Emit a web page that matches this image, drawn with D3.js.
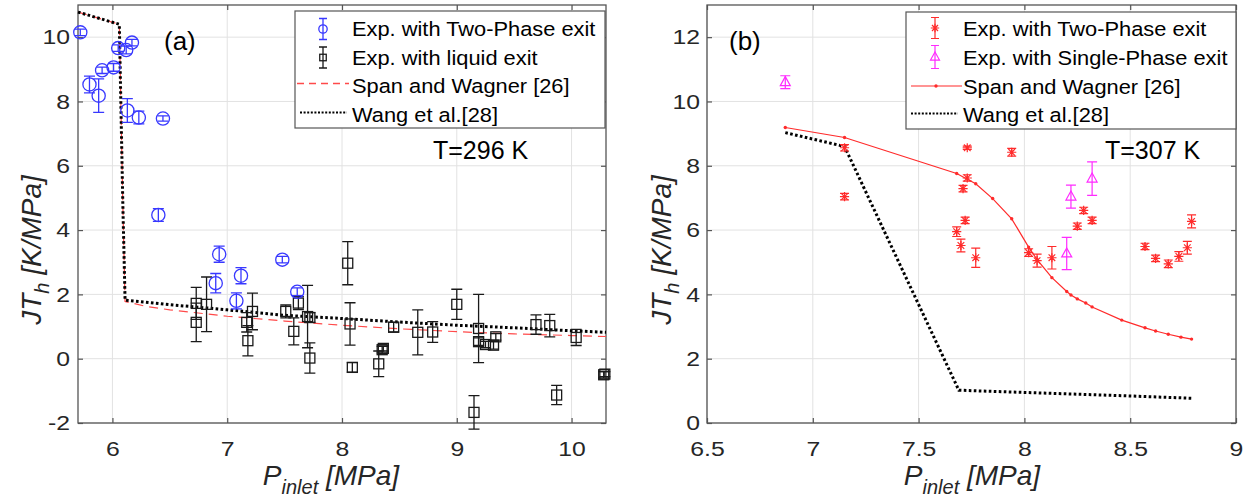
<!DOCTYPE html>
<html>
<head>
<meta charset="utf-8">
<script src="https://cdn.jsdelivr.net/npm/d3@7"></script>
<style>
  body { margin: 0; background: #fff; }
  svg { display: block; }
  text { font-family: "Liberation Sans", Arial, Helvetica, sans-serif; }
</style>
</head>
<body>
<svg id="chart" width="1249" height="501"></svg>
<script>
// ---------- Data: [P_inlet (MPa), JT_h (K/MPa), error (K/MPa)] ----------

// (a) T = 296 K
const twoPhaseA = [
  [5.72, 10.15, 0.10], [5.80, 8.53, 0.26], [5.88, 8.18, 0.52], [5.91, 8.97, 0.10],
  [6.01, 9.06, 0.12], [6.05, 9.66, 0.10], [6.12, 9.60, 0.12], [6.17, 9.83, 0.10],
  [6.13, 7.72, 0.37], [6.23, 7.50, 0.20], [6.44, 7.47, 0.08], [6.40, 4.47, 0.20],
  [6.93, 3.25, 0.25], [6.90, 2.35, 0.30], [7.12, 2.58, 0.25], [7.08, 1.80, 0.25],
  [7.48, 3.08, 0.10], [7.61, 2.08, 0.12]
];
const liquidA = [
  [6.73, 1.72, 0.50], [6.73, 1.13, 0.60], [6.82, 1.69, 0.85], [7.17, 1.13, 0.30],
  [7.18, 0.56, 0.47], [7.22, 1.47, 0.57], [7.51, 1.47, 0.20], [7.58, 0.85, 0.42],
  [7.62, 1.73, 0.20], [7.70, 1.31, 0.97], [7.72, 1.28, 0.15], [7.72, 0.02, 0.47],
  [8.05, 2.97, 0.67], [8.07, 1.08, 0.66], [8.09, -0.27, 0.15], [8.32, -0.16, 0.40],
  [8.35, 0.28, 0.10], [8.36, 0.32, 0.08], [8.45, 0.98, 0.15], [8.66, 0.82, 0.70],
  [8.79, 0.83, 0.32], [9.00, 1.69, 0.47], [9.15, -1.67, 0.52], [9.19, 0.94, 1.06],
  [9.19, 0.53, 0.12], [9.25, 0.44, 0.10], [9.32, 0.42, 0.12], [9.34, 0.68, 0.10],
  [9.69, 1.06, 0.30], [9.81, 1.03, 0.35], [9.87, -1.13, 0.30], [10.04, 0.66, 0.25],
  [10.28, -0.50, 0.10], [10.29, -0.48, 0.08]
];
const spanWagnerA = [
  [5.70, 10.78], [6.06, 10.40], [6.09, 4.90], [6.11, 1.78], [6.30, 1.62], [6.50, 1.52],
  [7.00, 1.32], [7.50, 1.17], [8.00, 1.04], [8.50, 0.93], [9.00, 0.84], [9.50, 0.77],
  [10.00, 0.72], [10.30, 0.69]
];
const wangA = [
  [5.70, 10.78], [6.06, 10.40], [6.09, 4.90], [6.11, 1.82], [6.50, 1.68], [7.00, 1.52],
  [7.50, 1.35], [8.00, 1.25], [8.50, 1.14], [9.00, 1.04], [9.50, 0.96], [10.00, 0.87],
  [10.30, 0.82]
];

// (b) T = 307 K
const twoPhaseB = [
  [7.15, 8.56, 0.10], [7.15, 7.04, 0.10], [7.73, 8.56, 0.05], [7.94, 8.42, 0.12],
  [7.73, 7.62, 0.10], [7.71, 7.29, 0.10], [7.72, 6.30, 0.10], [7.68, 5.95, 0.15],
  [7.70, 5.52, 0.20], [7.77, 5.14, 0.30], [8.02, 5.30, 0.12], [8.06, 5.05, 0.20],
  [8.13, 5.14, 0.35], [8.25, 6.12, 0.10], [8.28, 6.61, 0.10], [8.32, 6.30, 0.10],
  [8.57, 5.49, 0.10], [8.62, 5.12, 0.10], [8.68, 4.95, 0.12], [8.73, 5.18, 0.15],
  [8.77, 5.45, 0.20], [8.79, 6.27, 0.20]
];
const singlePhaseB = [
  [6.87, 10.60, 0.20], [8.20, 5.27, 0.50], [8.22, 7.04, 0.36], [8.32, 7.60, 0.52]
];
const spanWagnerB = [
  [6.87, 9.19], [7.15, 8.88], [7.68, 7.76], [7.77, 7.44], [7.85, 6.98], [7.94, 6.35],
  [8.02, 5.47], [8.06, 5.08], [8.13, 4.52], [8.20, 4.09], [8.22, 3.98], [8.25, 3.86],
  [8.29, 3.73], [8.32, 3.61], [8.46, 3.20], [8.57, 2.96], [8.62, 2.86], [8.68, 2.76],
  [8.74, 2.67], [8.79, 2.61]
];
const wangB = [
  [6.87, 9.03], [7.15, 8.60], [7.69, 1.02], [8.00, 0.95], [8.50, 0.84], [8.79, 0.77]
];

// Tick labels
const xTicksA = [6, 7, 8, 9, 10];
const yTicksA = [-2, 0, 2, 4, 6, 8, 10];
const xTicksB = [6.5, 7, 7.5, 8, 8.5, 9];
const yTicksB = [0, 2, 4, 6, 8, 10, 12];

// Legend texts
const legendA = ["Exp. with Two-Phase exit", "Exp. with liquid exit", "Span and Wagner [26]", "Wang et al.[28]"];
const legendB = ["Exp. with Two-Phase exit", "Exp. with Single-Phase exit", "Span and Wagner [26]", "Wang et al.[28]"];

// ---------- Styles ----------
const BLUE = "#3838ff", BLACK = "#1a1a1a", RED = "#ff2b2b", MAGENTA = "#ff2bff";
const DASH_RED = "#ff4a4a";
const AXIS = "#555555", GRID = "#e2e2e2", TXT = "#262626";
const TICK_SX = 1.18;   // horizontal stretch of tick label glyphs
const LEG_SX = 1.12;    // horizontal stretch of legend glyphs

const svg = d3.select("#chart");

// ---------- Marker helpers ----------
function errBar(g, x, y, yl, yh, half, color, w) {
  const p = d3.path();
  p.moveTo(x, yl); p.lineTo(x, yh);
  p.moveTo(x - half, yl); p.lineTo(x + half, yl);
  p.moveTo(x - half, yh); p.lineTo(x + half, yh);
  g.append("path").attr("d", p.toString()).attr("fill", "none")
    .attr("stroke", color).attr("stroke-width", w);
}
function circleMark(g, x, y, r, color) {
  g.append("circle").attr("cx", x).attr("cy", y).attr("r", r)
    .attr("fill", "none").attr("stroke", color).attr("stroke-width", 1.3);
}
function squareMark(g, x, y, s, color) {
  g.append("rect").attr("x", x - s / 2).attr("y", y - s / 2).attr("width", s).attr("height", s)
    .attr("fill", "none").attr("stroke", color).attr("stroke-width", 1.3);
}
function starMark(g, x, y, r, color) {
  const p = d3.path(), d = r * 0.72;
  p.moveTo(x - r, y); p.lineTo(x + r, y);
  p.moveTo(x, y - r); p.lineTo(x, y + r);
  p.moveTo(x - d, y - d); p.lineTo(x + d, y + d);
  p.moveTo(x - d, y + d); p.lineTo(x + d, y - d);
  g.append("path").attr("d", p.toString()).attr("fill", "none")
    .attr("stroke", color).attr("stroke-width", 1.2);
}
function triMark(g, x, y, s, color) {
  const h = s * 0.9;
  g.append("path").attr("d", `M${x},${y - h * 0.62}L${x + s / 2},${y + h * 0.38}L${x - s / 2},${y + h * 0.38}Z`)
    .attr("fill", "none").attr("stroke", color).attr("stroke-width", 1.2);
}

// Text placed at (x, y), optionally stretched horizontally
function label(g, x, y, str, size, opts = {}) {
  const sx = opts.sx || 1;
  return g.append("g").attr("transform", `translate(${x},${y}) scale(${sx},1)`)
    .append("text").attr("x", 0).attr("y", 0)
    .attr("font-size", size).attr("fill", opts.fill || "#000")
    .attr("text-anchor", opts.anchor || "start")
    .text(str);
}

// ---------- Panel ----------
function drawPanel(cfg) {
  const g = svg.append("g");
  const x = d3.scaleLinear().domain(cfg.xDomain).range([cfg.left, cfg.right]);
  const y = d3.scaleLinear().domain(cfg.yDomain).range([cfg.bottom, cfg.top]);
  const W = cfg.right - cfg.left, H = cfg.bottom - cfg.top;

  // grid
  const grid = g.append("g");
  grid.selectAll("line.gx").data(cfg.xTicks).join("line")
    .attr("x1", d => x(d)).attr("x2", d => x(d)).attr("y1", cfg.top).attr("y2", cfg.bottom)
    .attr("stroke", GRID).attr("stroke-width", 1);
  grid.selectAll("line.gy").data(cfg.yTicks).join("line")
    .attr("y1", d => y(d)).attr("y2", d => y(d)).attr("x1", cfg.left).attr("x2", cfg.right)
    .attr("stroke", GRID).attr("stroke-width", 1);

  // axes (inward ticks on all four sides)
  const fmt = d => String(d);
  const axB = g.append("g").attr("transform", `translate(0,${cfg.bottom})`)
    .call(d3.axisBottom(x).tickValues(cfg.xTicks).tickFormat(fmt).tickSize(-5).tickPadding(18));
  const axL = g.append("g").attr("transform", `translate(${cfg.left},0)`)
    .call(d3.axisLeft(y).tickValues(cfg.yTicks).tickFormat(fmt).tickSize(-5).tickPadding(cfg.yPad));
  const axT = g.append("g").attr("transform", `translate(0,${cfg.top})`)
    .call(d3.axisTop(x).tickValues(cfg.xTicks).tickFormat("").tickSize(-5));
  const axR = g.append("g").attr("transform", `translate(${cfg.right},0)`)
    .call(d3.axisRight(y).tickValues(cfg.yTicks).tickFormat("").tickSize(-5));
  [axB, axL, axT, axR].forEach(a => {
    a.select(".domain").remove();
    a.selectAll(".tick line").attr("stroke", AXIS).attr("stroke-width", 1.2);
    a.selectAll(".tick text").attr("font-size", 21).attr("fill", TXT)
      .attr("font-family", "'Liberation Sans', Arial, sans-serif");
  });
  axB.selectAll(".tick text").attr("transform", `scale(${TICK_SX},1)`);
  axL.selectAll(".tick text").attr("x", -cfg.yPad / TICK_SX).attr("transform", `scale(${TICK_SX},1)`);

  g.append("rect").attr("x", cfg.left).attr("y", cfg.top).attr("width", W).attr("height", H)
    .attr("fill", "none").attr("stroke", AXIS).attr("stroke-width", 1.3);

  // axis titles
  const xl = g.append("text").attr("x", cfg.xLabelX).attr("y", 485).attr("text-anchor", "middle")
    .attr("font-size", 28).attr("font-style", "italic").attr("fill", TXT);
  xl.append("tspan").text("P");
  xl.append("tspan").attr("font-size", 20).attr("dy", 9).text("inlet");
  xl.append("tspan").attr("dy", -9).text(" [MPa]");

  const yl = g.append("text").attr("transform", `translate(${cfg.yLabelX},${cfg.yLabelY}) rotate(-90)`)
    .attr("text-anchor", "middle").attr("font-size", 28).attr("font-style", "italic").attr("fill", TXT);
  yl.append("tspan").text("JT");
  yl.append("tspan").attr("font-size", 20).attr("dy", 8).text("h");
  yl.append("tspan").attr("dy", -8).text(" [K/MPa]");

  return { g, x, y };
}

const line = (sx, sy) => d3.line().x(d => sx(d[0])).y(d => sy(d[1]));

// ===== Panel (a) =====
const A = drawPanel({
  left: 78, right: 606, top: 5, bottom: 423,
  xDomain: [5.7, 10.3], yDomain: [-2, 11],
  xTicks: xTicksA, yTicks: yTicksA, yPad: 8,
  xLabelX: 331, yLabelX: 41, yLabelY: 250
});
{
  const { g, x, y } = A;
  g.append("path").datum(spanWagnerA).attr("d", line(x, y)).attr("fill", "none")
    .attr("stroke", DASH_RED).attr("stroke-width", 1.2).attr("stroke-dasharray", "9,6");
  g.append("path").datum(wangA).attr("d", line(x, y)).attr("fill", "none")
    .attr("stroke", "#000").attr("stroke-width", 3).attr("stroke-dasharray", "2.6,2.4");

  const mk = g.append("g");
  liquidA.forEach(([p, v, e]) => {
    errBar(mk, x(p), y(v), y(v - e), y(v + e), 5.5, BLACK, 1.3);
    squareMark(mk, x(p), y(v), 10, BLACK);
  });
  twoPhaseA.forEach(([p, v, e]) => {
    errBar(mk, x(p), y(v), y(v - e), y(v + e), 5.5, BLUE, 1.3);
    circleMark(mk, x(p), y(v), 6.6, BLUE);
  });

  label(g, 164, 50, "(a)", 26, { fill: "#000" });
  label(g, 433, 159, "T=296 K", 25, { fill: "#000" });

  // legend
  const lg = g.append("g");
  lg.append("rect").attr("x", 295).attr("y", 11).attr("width", 310).attr("height", 117)
    .attr("fill", "#fff").attr("stroke", AXIS).attr("stroke-width", 1.2);
  const rows = [29, 57.5, 86, 114.5];
  errBar(lg, 323, rows[0], rows[0] + 10.5, rows[0] - 10.5, 4, BLUE, 1.3);
  circleMark(lg, 323, rows[0], 4.2, BLUE);
  errBar(lg, 323, rows[1], rows[1] + 10.5, rows[1] - 10.5, 4, BLACK, 1.3);
  squareMark(lg, 323, rows[1], 6.5, BLACK);
  lg.append("path").attr("d", `M297,${rows[2] - 2.5}H349`).attr("fill", "none")
    .attr("stroke", DASH_RED).attr("stroke-width", 1.3).attr("stroke-dasharray", "7,5");
  lg.append("path").attr("d", `M300,${rows[3] - 2}H347`).attr("fill", "none")
    .attr("stroke", "#000").attr("stroke-width", 2.2).attr("stroke-dasharray", "2,1.6");
  legendA.forEach((s, i) => label(lg, 352, rows[i] + 7, s, 19.5, { sx: LEG_SX }));
}

// ===== Panel (b) =====
const B = drawPanel({
  left: 707, right: 1236, top: 5, bottom: 423,
  xDomain: [6.5, 9], yDomain: [0, 13],
  xTicks: xTicksB, yTicks: yTicksB, yPad: 7,
  xLabelX: 972, yLabelX: 671, yLabelY: 250
});
{
  const { g, x, y } = B;
  g.append("path").datum(wangB).attr("d", line(x, y)).attr("fill", "none")
    .attr("stroke", "#000").attr("stroke-width", 3).attr("stroke-dasharray", "2.6,2.4");
  g.append("path").datum(spanWagnerB).attr("d", line(x, y)).attr("fill", "none")
    .attr("stroke", RED).attr("stroke-width", 1.2);
  g.append("g").selectAll("circle").data(spanWagnerB).join("circle")
    .attr("cx", d => x(d[0])).attr("cy", d => y(d[1])).attr("r", 1.7).attr("fill", RED);

  const mk = g.append("g");
  twoPhaseB.forEach(([p, v, e]) => {
    errBar(mk, x(p), y(v), y(v - e), y(v + e), 4.5, RED, 1.2);
    starMark(mk, x(p), y(v), 4.6, RED);
  });
  singlePhaseB.forEach(([p, v, e]) => {
    errBar(mk, x(p), y(v), y(v - e), y(v + e), 5, MAGENTA, 1.2);
    triMark(mk, x(p), y(v), 10, MAGENTA);
  });

  label(g, 729, 50, "(b)", 26, { fill: "#000" });
  label(g, 1105, 159, "T=307 K", 25, { fill: "#000" });

  const lg = g.append("g");
  lg.append("rect").attr("x", 906).attr("y", 12).attr("width", 330).attr("height", 117)
    .attr("fill", "#fff").attr("stroke", AXIS).attr("stroke-width", 1.2);
  const rows = [28, 57, 86, 114.5];
  errBar(lg, 935, rows[0], rows[0] + 10.5, rows[0] - 10.5, 4, RED, 1.2);
  starMark(lg, 935, rows[0], 4.2, RED);
  errBar(lg, 935, rows[1], rows[1] + 11.5, rows[1] - 11.5, 4, MAGENTA, 1.2);
  triMark(lg, 935, rows[1], 9, MAGENTA);
  lg.append("path").attr("d", `M911,${rows[2]}H962`).attr("fill", "none")
    .attr("stroke", RED).attr("stroke-width", 1.2);
  lg.append("circle").attr("cx", 936).attr("cy", rows[2]).attr("r", 1.7).attr("fill", RED);
  lg.append("path").attr("d", `M911,${rows[3] - 1}H958`).attr("fill", "none")
    .attr("stroke", "#000").attr("stroke-width", 2.2).attr("stroke-dasharray", "2,1.6");
  legendB.forEach((s, i) => label(lg, 963, rows[i] + 7.5, s, 19.5, { sx: LEG_SX }));
}
</script>
</body>
</html>
